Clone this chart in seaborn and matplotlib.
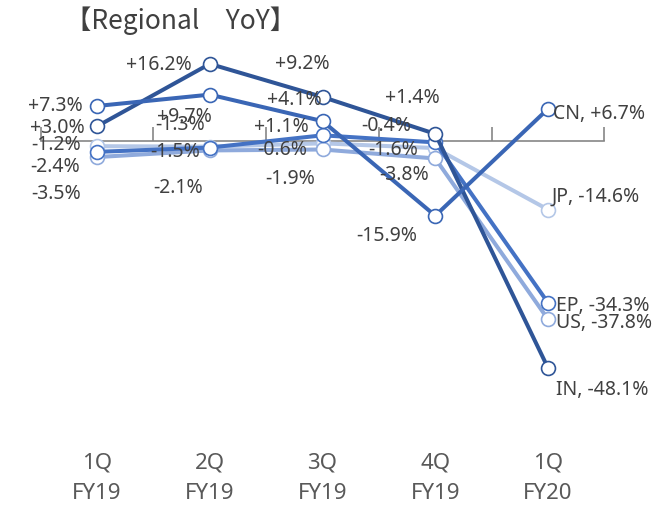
import numpy as np
import pandas as pd
import matplotlib.pyplot as plt
import seaborn as sns

quarters = ["1Q\nFY19", "2Q\nFY19", "3Q\nFY19", "4Q\nFY19", "1Q\nFY20"]
regions = ["JP", "US", "EP", "IN", "CN"]
jp = [-1.2, -1.3, -0.6, -1.6, -14.6]
us = [-3.5, -2.1, -1.9, -3.8, -37.8]
ep = [-2.4, -1.5, 1.1, -0.4, -34.3]
india = [3.0, 16.2, 9.2, 1.4, -48.1]
cn = [7.3, 9.7, 4.1, -15.9, 6.7]

colors = {"JP": "#b4c7e7", "US": "#8faadc", "EP": "#4472c4",
          "IN": "#2f5597", "CN": "#3a66b5"}

# label offsets in pixels (dx, dy screen-down) and alignment, per region per quarter
label_pos = {
    "CN": [(-14, 0, "right"), (-25, 22, "center"), (-28, -21, "center"), (-49, 20, "center"), (5, 5, "left")],
    "IN": [(-12, 2, "right"), (-18, 1, "right"), (-20, -33, "center"), (-23, -36, "center"), (8, 22, "left")],
    "JP": [(-16, -1, "right"), (-30, -22, "center"), (-40, 7, "center"), (-42, 2, "center"), (4, -13, "left")],
    "EP": [(-17, 15, "right"), (-35, 4, "center"), (-41, -8, "center"), (-49, -16, "center"), (8, 3, "left")],
    "US": [(-16, 37, "right"), (-32, 38, "center"), (-32, 30, "center"), (-31, 17, "center"), (8, 4, "left")],
}

values = {"JP": jp, "US": us, "EP": ep, "IN": india, "CN": cn}
df = pd.DataFrame({
    "pos": np.tile(np.arange(len(quarters)), len(regions)),
    "region": np.repeat(regions, len(quarters)),
    "yoy": np.concatenate([values[r] for r in regions]),
})

sns.set_theme(style="white")
plt.rcParams["font.family"] = ["Noto Sans", "DejaVu Sans"]
txt = "#404040"

fig = plt.figure(figsize=(6.68, 5.17), dpi=100)
ax = fig.add_axes([0.0608, 0.1793, 0.844, 0.7319])

for r in regions:
    sub = df[df.region == r]
    sns.lineplot(data=sub, x="pos", y="yoy", color=colors[r], ax=ax,
                 linewidth=2.9, marker="o", markersize=10,
                 markerfacecolor="white", markeredgecolor=colors[r],
                 markeredgewidth=1.2, legend=False)
    for i, (x, v) in enumerate(zip(sub.pos, sub.yoy)):
        dx, dy, ha = label_pos[r][i]
        s = f"{v:+.1f}%"
        if i == len(quarters) - 1:
            s = f"{r}, {s}"
        ax.annotate(s, (x, v), xytext=(dx, -dy), textcoords="offset pixels",
                    ha=ha, va="center", fontsize=14, color=txt)

ax.set_xlim(-0.5, 4.5)
ax.set_ylim(-60, 20)
for s in ax.spines.values():
    s.set_visible(False)
ax.set_yticks([])
ax.set_xticks(range(len(quarters)))
ax.set_xticklabels(quarters, fontsize=16, color="#595959", linespacing=1.6)
ax.tick_params(axis="x", length=0, pad=20)
ax.set_xlabel("")
ax.set_ylabel("")

zero = ax.secondary_xaxis(0, transform=ax.transData)
zero.set_xticks(np.arange(-0.5, 5, 1))
zero.set_xticklabels([])
zero.tick_params(direction="in", length=10, width=1.2, color="#868686")
zero.spines["bottom"].set_color("#868686")
zero.spines["bottom"].set_linewidth(1.2)
zero.set_zorder(0)

fig.text(0.271, 0.96, "【Regional\u3000YoY】", ha="center", va="center",
         fontsize=19, color=txt, family=["Noto Sans CJK JP", "DejaVu Sans"])

fig.savefig("out.png", dpi=100)
